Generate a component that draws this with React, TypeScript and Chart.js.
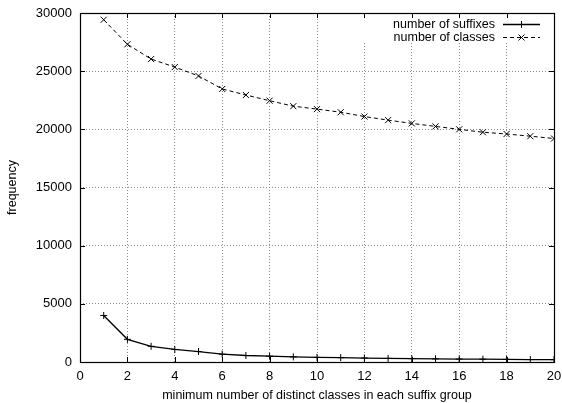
import { useEffect, useRef } from "react";
import { Chart, registerables } from "chart.js";

Chart.register(...registerables);

const xValues = [1, 2, 3, 4, 5, 6, 7, 8, 9, 10, 11, 12, 13, 14, 15, 16, 17, 18, 19, 20];
const suffixes = [4000, 1950, 1350, 1080, 900, 680, 560, 500, 440, 400, 370, 340, 310, 290, 270, 255, 240, 225, 210, 200];
const classes = [
  29420, 27310, 26040, 25350, 24590, 23470, 22950, 22460, 21990, 21740,
  21470, 21100, 20790, 20510, 20250, 20000, 19750, 19600, 19410, 19210,
];
const seriesNames = ["number of suffixes", "number of classes"];

const FONT = "'Liberation Sans', Arial, Helvetica, sans-serif";
const GRID = "#8a8a8a";

function drawMarker(ctx: CanvasRenderingContext2D, kind: string, x: number, y: number) {
  ctx.beginPath();
  if (kind === "cross") {
    ctx.moveTo(x - 3.5, y);
    ctx.lineTo(x + 3.5, y);
    ctx.moveTo(x, y - 3.5);
    ctx.lineTo(x, y + 3.5);
  } else {
    ctx.moveTo(x - 3, y - 3);
    ctx.lineTo(x + 3, y + 3);
    ctx.moveTo(x - 3, y + 3);
    ctx.lineTo(x + 3, y - 3);
  }
  ctx.stroke();
}

// gnuplot look: blanked key area, black frame, inward ticks on all four sides, key top right
const gnuplotFrame = {
  id: "gnuplotFrame",
  beforeDatasetsDraw(chart: Chart) {
    const { ctx, chartArea: a } = chart;
    ctx.save();
    ctx.fillStyle = "#fff";
    ctx.fillRect(a.right - 214, a.top + 1, 213, 28);
    ctx.restore();
  },
  afterDraw(chart: Chart) {
    const { ctx, chartArea: a } = chart;
    const xs = chart.scales.x;
    const ys = chart.scales.y;
    ctx.save();
    ctx.strokeStyle = "#000";
    ctx.lineWidth = 1;
    ctx.setLineDash([]);
    ctx.beginPath();
    for (const t of xs.ticks) {
      const px = Math.round(xs.getPixelForValue(t.value)) + 0.5;
      ctx.moveTo(px, a.bottom);
      ctx.lineTo(px, a.bottom - 5);
      ctx.moveTo(px, a.top);
      ctx.lineTo(px, a.top + 5);
    }
    for (const t of ys.ticks) {
      const py = Math.round(ys.getPixelForValue(t.value)) + 0.5;
      ctx.moveTo(a.left, py);
      ctx.lineTo(a.left + 5, py);
      ctx.moveTo(a.right, py);
      ctx.lineTo(a.right - 5, py);
    }
    ctx.stroke();
    ctx.lineWidth = 1.2;
    ctx.strokeRect(Math.round(a.left) + 0.5, Math.round(a.top) + 0.5, Math.round(a.right - a.left), Math.round(a.bottom - a.top));

    // key
    ctx.font = `12.5px ${FONT}`;
    ctx.fillStyle = "#000";
    ctx.textAlign = "right";
    ctx.textBaseline = "middle";
    chart.data.datasets.forEach((ds: any, i: number) => {
      const y = a.top + 11 + i * 13;
      ctx.fillText(ds.label, a.right - 59, y + 0.5);
      ctx.lineWidth = ds.borderWidth;
      ctx.setLineDash(ds.borderDash || []);
      ctx.beginPath();
      ctx.moveTo(a.right - 51, y + 0.5);
      ctx.lineTo(a.right - 14, y + 0.5);
      ctx.stroke();
      ctx.setLineDash([]);
      ctx.lineWidth = 1;
      drawMarker(ctx, ds.pointStyle, a.right - 32.5, y + 0.5);
    });
    ctx.restore();
  },
};

export default function App() {
  const canvasRef = useRef<HTMLCanvasElement>(null);

  useEffect(() => {
    const canvas = canvasRef.current;
    if (!canvas) return;
    Chart.defaults.font.family = FONT;
    Chart.defaults.color = "#000";

    const chart = new Chart(canvas.getContext("2d")!, {
      type: "line",
      data: {
        datasets: [
          {
            label: seriesNames[0],
            data: xValues.map((x, i) => ({ x, y: suffixes[i] })),
            borderColor: "#000",
            backgroundColor: "#000",
            borderWidth: 1.3,
            pointStyle: "cross",
            pointRadius: 3.5,
            pointBorderWidth: 1,
            tension: 0,
          },
          {
            label: seriesNames[1],
            data: xValues.map((x, i) => ({ x, y: classes[i] })),
            borderColor: "#000",
            backgroundColor: "#000",
            borderWidth: 1,
            borderDash: [4, 3],
            pointStyle: "crossRot",
            pointRadius: 4.3,
            pointBorderWidth: 1,
            tension: 0,
          },
        ],
      },
      options: {
        responsive: true,
        maintainAspectRatio: false,
        animation: false,
        layout: { padding: { top: 13, right: 8, left: 0, bottom: 0 } },
        plugins: {
          legend: { display: false },
          tooltip: { enabled: false },
        },
        scales: {
          x: {
            type: "linear",
            min: 0,
            max: 20,
            afterFit: (scale: any) => {
              scale.height = 41;
              scale.paddingLeft = 0;
              scale.paddingRight = 0;
            },
            ticks: {
              stepSize: 2,
              autoSkip: false,
              maxRotation: 0,
              padding: 7,
              color: "#000",
              font: { size: 13 },
            },
            grid: { color: GRID, lineWidth: 1, drawTicks: false },
            border: { display: false, dash: [1, 2] },
            title: {
              display: true,
              text: "minimum number of distinct classes in each suffix group",
              color: "#000",
              font: { size: 12.5 },
              padding: { top: 0, bottom: 0 },
            },
          },
          y: {
            type: "linear",
            min: 0,
            max: 30000,
            afterFit: (scale: any) => {
              scale.width = 80;
              scale.paddingTop = 0;
              scale.paddingBottom = 0;
            },
            ticks: {
              stepSize: 5000,
              padding: 8,
              color: "#000",
              font: { size: 13 },
              callback: (v: any) => String(v),
            },
            grid: { color: GRID, lineWidth: 1, drawTicks: false },
            border: { display: false, dash: [1, 2] },
            title: {
              display: true,
              text: "frequency",
              color: "#000",
              font: { size: 12.5 },
              padding: { top: 5, bottom: 0 },
            },
          },
        },
      },
      plugins: [gnuplotFrame],
    });

    return () => chart.destroy();
  }, []);

  return (
    <div style={{ position: "absolute", left: 0, top: 0, width: 562, height: 403, background: "#fff" }}>
      <canvas ref={canvasRef} />
    </div>
  );
}
